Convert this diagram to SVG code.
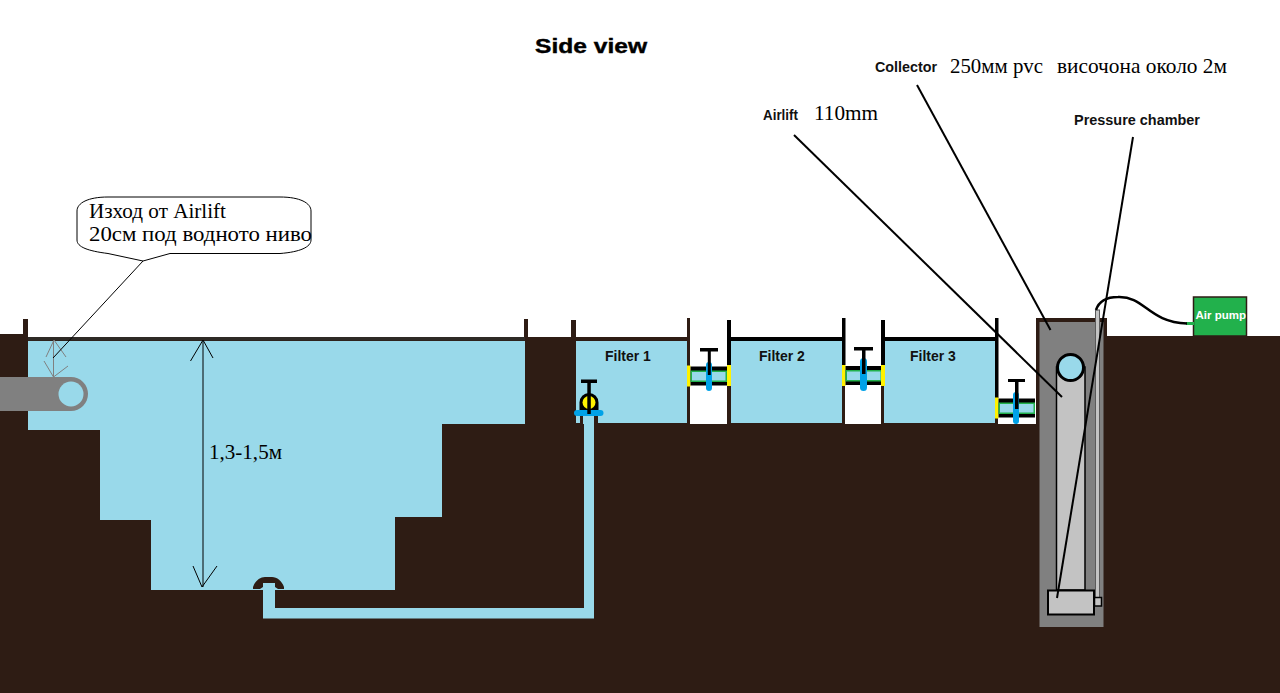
<svg xmlns="http://www.w3.org/2000/svg" width="1280" height="693" viewBox="0 0 1280 693">
<style>
.g{fill:#2e1c14}.w{fill:#99d9ea}.k{fill:#000}.y{fill:#fff200}.b{fill:#00a2e8}
.lab{font-family:"Liberation Sans",Arial,sans-serif;font-weight:bold;fill:#111;font-size:14px}
.ser{font-family:"Liberation Serif","Times New Roman",serif;fill:#000;font-size:21px}
.ld{stroke:#000;stroke-width:2;fill:none}
.th{stroke:#000;stroke-width:1;fill:none}
.gy{stroke:#808080;stroke-width:1;fill:none}
</style>
<defs>
<g id="valve">
<rect x="0" y="0" width="3.5" height="21" class="y"/>
<rect x="3.5" y="1" width="36.5" height="19" class="k"/>
<rect x="3.5" y="5" width="36.5" height="11.5" fill="#22b14c"/>
<rect x="5" y="6.5" width="33.5" height="8.5" class="w"/>
</g>
</defs>
<rect width="1280" height="693" fill="#fff"/>
<g id="ground">
<path class="g" d="M0 334H23V319H28V337H524V319H528V337H571V320H576V337H687V318H690V424H727V320H731V337H842V318H845V424H881V320H884V337H995V318H998V424H1036V318H1107V336H1280V693H0Z"/>
</g>
<g id="pond">
<path class="w" d="M28 341H525V424H442V517H395V590H151V520H100V430H28Z"/>
<rect x="28" y="337" width="497" height="3.5" fill="#2e2a26"/>
</g>
<g id="pipe-outlet">
<rect x="0" y="377" width="71" height="34" fill="#808080"/>
<circle cx="71" cy="394" r="17" fill="#808080"/>
<circle cx="71" cy="394" r="12.500" class="w"/>
</g>
<g id="drain-pipe">
<path class="w" d="M263 583H275V608H584V416H594V618.500H263Z"/>
<path class="g" d="M253 587C255 581 260 577 265 577H272C277 577 282 581 284 587V589H278L275 587V583H263V587L260 589H253Z"/>
</g>
<g id="filter-1">
<rect x="576" y="341" width="111" height="82" class="w"/>
<path class="g" d="M580 416h18v8h-18z"/>
<path class="w" d="M583 416h11v8h-11z"/>
<text class="lab" x="605" y="361">Filter 1</text>
</g>
<g id="filter-2">
<rect x="731" y="341" width="111" height="82" class="w"/>
<rect x="727" y="337" width="115" height="4" class="k"/>
<rect x="727" y="320" width="4" height="46" class="k"/>
<text class="lab" x="759" y="361">Filter 2</text>
</g>
<g id="filter-3">
<rect x="884" y="341" width="111" height="82" class="w"/>
<rect x="881" y="337" width="114" height="4" class="k"/>
<rect x="881" y="320" width="4" height="46" class="k"/>
<rect x="842" y="318" width="3.500" height="47" class="k"/>
<rect x="995" y="318" width="3.500" height="80" class="k"/>
<text class="lab" x="910" y="361">Filter 3</text>
</g>
<g id="valve-1">
<path class="k" d="M579.500 411V402.500A9.500 9.500 0 0 1 598.500 402.500V411Z"/>
<circle cx="589" cy="402.500" r="6.500" class="y"/>
<rect x="574" y="410" width="29.500" height="6" rx="3" class="b"/>
<rect x="581" y="379.500" width="16" height="3.500" class="k"/>
<rect x="587.300" y="380" width="3.500" height="34" class="k"/>
</g>
<g id="valve-2">
<use href="#valve" x="687" y="365.500"/>
<rect x="727" y="365" width="4" height="21" class="y"/>
<rect x="706" y="362" width="6" height="29" rx="3" class="b"/>
<rect x="700" y="348" width="18" height="3.500" class="k"/>
<rect x="707.800" y="350" width="3" height="25" class="k"/>
</g>
<g id="valve-3">
<use href="#valve" x="842" y="365"/>
<rect x="881" y="365" width="4" height="21" class="y"/>
<rect x="860" y="358" width="7" height="33" rx="3.500" class="b"/>
<rect x="854" y="347" width="19" height="3.500" class="k"/>
<rect x="862" y="349" width="3.500" height="25" class="k"/>
</g>
<g id="valve-4">
<use href="#valve" x="995" y="397.500"/>
<rect x="1013" y="392" width="6" height="32" rx="3" class="b"/>
<rect x="1008" y="379" width="17" height="3" class="k"/>
<rect x="1015" y="381" width="3.500" height="28" class="k"/>
</g>
<g id="chamber">
<rect x="1036" y="318" width="71" height="18" class="g"/>
<rect x="1039.500" y="322" width="64" height="305" fill="#808080"/>
</g>
<g id="airlift">
<path d="M1056.500 367V590H1085V367Z" fill="#c3c3c3" stroke="#000" stroke-width="1.500"/>
<circle cx="1070.500" cy="367.500" r="13" class="w" stroke="#000" stroke-width="3"/>
</g>
<g id="air-line">
<rect x="1095.500" y="310" width="4" height="288" fill="#c3c3c3" stroke="#5a5a5a" stroke-width="1"/>
<rect x="1094.500" y="597.500" width="7" height="8.500" fill="#c3c3c3" stroke="#000" stroke-width="1.500"/>
</g>
<g id="pressure-chamber">
<rect x="1048" y="590.500" width="46" height="24" fill="#c3c3c3" stroke="#000" stroke-width="2"/>
</g>
<g id="air-pump">
<rect x="1193.500" y="297" width="53" height="39" fill="#22b14c" stroke="#2e1c14" stroke-width="1.500"/>
<text x="1195.500" y="319" font-family="'Liberation Sans',Arial,sans-serif" font-weight="bold" font-size="11.500" fill="#fff">Air pump</text>
<rect x="1186" y="322" width="8" height="3" fill="#22b14c"/>
</g>
<g id="connectors">
<path d="M1096 310C1099 301 1106 297 1118 297C1145 296 1148 322 1187 323.500" fill="none" stroke="#000" stroke-width="2.500"/>
<line class="ld" x1="917" y1="85" x2="1050.500" y2="330"/>
<line class="ld" x1="794" y1="135" x2="1062" y2="397"/>
<line class="ld" x1="1133" y1="137" x2="1057" y2="598"/>
<path class="th" d="M203 341V587M190.500 361L203 340L213 358M193 566L202 587L217 566"/>
<path class="gy" d="M53.500 341V377M46 357L54 340L66 357M44 361L53.500 377L68 366"/>
<line class="th" x1="143" y1="261" x2="53" y2="358"/>
</g>
<g id="callout">
<path d="M143 261L170 253.500H280C300 252 311 247 311 240V211C311 203 300 197 280 197H108C88 197 77 203 77 211V240C77 247 88 251 108 253.500L143 261Z" fill="#fff" stroke="#000" stroke-width="1"/>
<text class="ser" x="89" y="218" textLength="137" lengthAdjust="spacingAndGlyphs">Изход от Airlift</text>
<text class="ser" x="89" y="241" textLength="223" lengthAdjust="spacingAndGlyphs">20см под водното ниво</text>
</g>
<g id="labels">
<text x="535" y="53" font-family="'Liberation Sans',Arial,sans-serif" font-weight="bold" font-size="20" textLength="112" lengthAdjust="spacingAndGlyphs" stroke="#000" stroke-width=".4">Side view</text>
<text class="lab" x="763" y="120" font-size="13" textLength="35" lengthAdjust="spacingAndGlyphs">Airlift</text>
<text class="ser" x="814" y="120" textLength="64" lengthAdjust="spacingAndGlyphs">110mm</text>
<text class="lab" x="875" y="72" textLength="62" lengthAdjust="spacingAndGlyphs">Collector</text>
<text class="ser" x="950" y="73" textLength="93" lengthAdjust="spacingAndGlyphs">250мм pvc</text>
<text class="ser" x="1057" y="73" textLength="170" lengthAdjust="spacingAndGlyphs">височона около 2м</text>
<text class="lab" x="1074" y="125" textLength="126" lengthAdjust="spacingAndGlyphs">Pressure chamber</text>
<text class="ser" x="209" y="459" textLength="73" lengthAdjust="spacingAndGlyphs">1,3-1,5м</text>
</g>
</svg>
